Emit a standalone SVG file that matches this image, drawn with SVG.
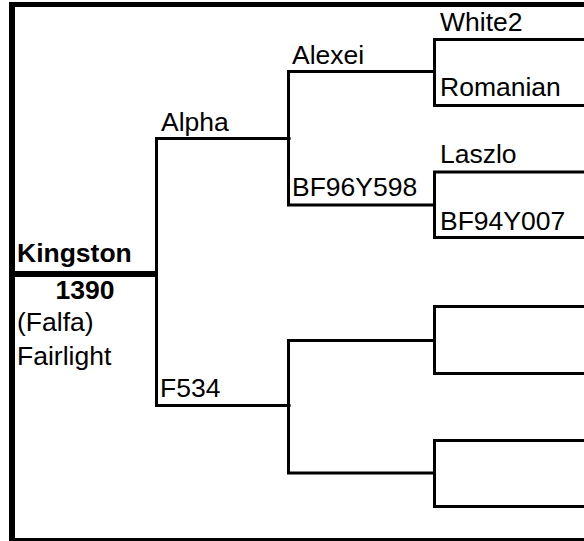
<svg xmlns="http://www.w3.org/2000/svg" width="584" height="541" viewBox="0 0 584 541">
<style>
.ln{fill:none;stroke:#000;stroke-width:3;stroke-linecap:square}
.t{font-family:"Liberation Sans",Arial,sans-serif;font-size:26.5px;fill:#000}
.b{font-weight:bold}
</style>
<rect width="584" height="541" fill="#fff"/>
<g id="frame">
<line x1="12" y1="2" x2="12" y2="541" stroke="#000" stroke-width="6"/>
<line x1="9" y1="4.5" x2="584" y2="4.5" stroke="#000" stroke-width="5"/>
<line x1="9" y1="539.5" x2="584" y2="539.5" stroke="#000" stroke-width="3"/>
</g>
<g id="connectors">
<line x1="15" y1="274" x2="157" y2="274" stroke="#000" stroke-width="6"/>
<path class="ln" d="M289,138.5 H156.5 V405.5 H289"/>
<path class="ln" d="M434.5,71.5 H288.5 V205 H434.5"/>
<path class="ln" d="M434.5,473 H288.5 V340.5 H434.5"/>
<path class="ln" d="M584,39.5 H434.5 V105.5 H584"/>
<path class="ln" d="M584,172 H434.5 V237.5 H584"/>
<path class="ln" d="M584,306.5 H434.5 V373.5 H584"/>
<path class="ln" d="M584,440.5 H434.5 V506.5 H584"/>
</g>
<g id="n-kingston">
<text class="t b" x="17" y="262">Kingston</text>
<text class="t b" x="85" y="299" text-anchor="middle">1390</text>
<text class="t" x="17" y="331">(Falfa)</text>
<text class="t" x="17" y="365">Fairlight</text>
</g>
<g id="n-alpha"><text class="t" x="161" y="131">Alpha</text></g>
<g id="n-f534"><text class="t" x="160" y="397">F534</text></g>
<g id="n-alexei"><text class="t" x="292" y="64">Alexei</text></g>
<g id="n-bf96y598"><text class="t" x="292" y="196">BF96Y598</text></g>
<g id="n-white2"><text class="t" x="440" y="31">White2</text></g>
<g id="n-romanian"><text class="t" x="440" y="96">Romanian</text></g>
<g id="n-laszlo"><text class="t" x="440" y="163">Laszlo</text></g>
<g id="n-bf94y007"><text class="t" x="440" y="230">BF94Y007</text></g>
</svg>
